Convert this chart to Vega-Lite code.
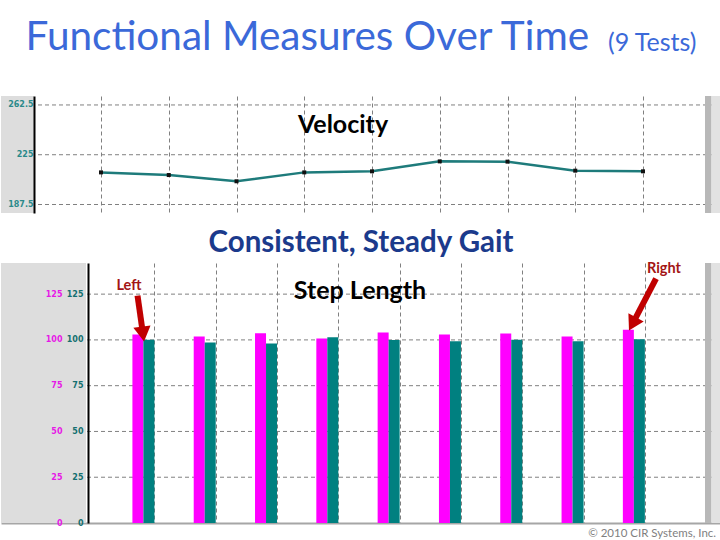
{
  "$schema": "https://vega.github.io/schema/vega-lite/v6.json",
  "padding": {"top": 17, "left": 0, "right": 0, "bottom": 0},
  "background": "white",
  "spacing": 14,
  "config": {"view": {"stroke": null}, "font": "Lato"},
  "title": {"text": "Functional Measures Over Time", "anchor": "start", "dx": 25, "dy": 17, "offset": -10, "fontSize": 40.5, "font": "Lato", "fontWeight": "normal", "color": "#3b69d9"},
  "datasets": {
    "velocity": [
      {"test": 1, "velocity": 211.7},
      {"test": 2, "velocity": 209.7},
      {"test": 3, "velocity": 205.0},
      {"test": 4, "velocity": 211.7},
      {"test": 5, "velocity": 212.5},
      {"test": 6, "velocity": 220.0},
      {"test": 7, "velocity": 219.8},
      {"test": 8, "velocity": 213.0},
      {"test": 9, "velocity": 212.5}
    ],
    "steps": [
      {"test": 1, "right": 103.0, "left": 100.1},
      {"test": 2, "right": 101.9, "left": 98.6},
      {"test": 3, "right": 103.7, "left": 98.1},
      {"test": 4, "right": 100.8, "left": 101.4},
      {"test": 5, "right": 104.1, "left": 99.9},
      {"test": 6, "right": 103.0, "left": 99.2},
      {"test": 7, "right": 103.5, "left": 100.1},
      {"test": 8, "right": 101.9, "left": 99.2},
      {"test": 9, "right": 105.6, "left": 100.3}
    ],
    "velGrid": [{"v": 187.5}, {"v": 225}, {"v": 262.5}],
    "stepGrid": [{"v": 25}, {"v": 50}, {"v": 75}, {"v": 100}, {"v": 125}],
    "one": [{}]
  },
  "vconcat": [
    {
      "width": 720,
      "height": 117,
      "title": {"text": "(9 Tests)", "anchor": "end", "dx": -25, "dy": -5, "offset": 35, "fontSize": 25, "font": "Lato", "fontWeight": "normal", "color": "#3b69d9"},
      "resolve": {"scale": {"x": "independent", "y": "independent"}},
      "layer": [
        {
          "data": {"name": "velGrid"},
          "mark": {"type": "rule", "color": "#808080", "strokeDash": [4, 3], "strokeWidth": 1},
          "encoding": {"y": {"field": "v", "type": "quantitative", "scale": {"domain": [181.1, 269.25], "nice": false, "zero": false}, "axis": null}}
        },
        {
          "data": {"name": "one"},
          "mark": {"type": "rect", "color": "#dddddd"},
          "encoding": {
            "x": {"datum": -0.476, "type": "quantitative", "scale": {"domain": [-0.476, 10.151], "nice": false, "zero": false}, "axis": null},
            "x2": {"datum": 0.011}
          }
        },
        {
          "data": {"name": "one"},
          "mark": {"type": "rect", "color": "#b8b8b8"},
          "encoding": {
            "x": {"datum": 9.915, "type": "quantitative", "scale": {"domain": [-0.476, 10.151], "nice": false, "zero": false}, "axis": null},
            "x2": {"datum": 10.011}
          }
        },
        {
          "data": {"name": "one"},
          "mark": {"type": "rect", "color": "#e2e2e2"},
          "encoding": {
            "x": {"datum": 10.011, "type": "quantitative", "scale": {"domain": [-0.476, 10.151], "nice": false, "zero": false}, "axis": null},
            "x2": {"datum": 10.151}
          }
        },
        {
          "data": {"name": "velocity"},
          "mark": {"type": "line", "color": "#1e7b7b", "strokeWidth": 2.5},
          "encoding": {
            "x": {"field": "test", "type": "quantitative", "scale": {"domain": [-0.476, 10.151], "nice": false, "zero": false},
                  "axis": {"orient": "bottom", "values": [1, 2, 3, 4, 5, 6, 7, 8, 9], "grid": true, "gridDash": [4, 3], "gridColor": "#808080", "gridOpacity": 1, "labels": false, "ticks": false, "domain": false, "title": null}},
            "y": {"field": "velocity", "type": "quantitative", "scale": {"domain": [181.1, 269.25], "nice": false, "zero": false},
                  "axis": {"orient": "left", "offset": -33, "values": [187.5, 225, 262.5], "format": ".1~f", "grid": false, "ticks": false, "domain": true, "domainColor": "#000000", "domainWidth": 2, "labelColor": "#2a8a8a", "labelFont": "DejaVu Sans", "labelFontWeight": "bold", "labelFontSize": 8, "labelPadding": 1, "zindex": 1, "title": null}}
          }
        },
        {
          "data": {"name": "velocity"},
          "mark": {"type": "point", "shape": "square", "filled": true, "color": "#111111", "size": 16, "opacity": 1},
          "encoding": {
            "x": {"field": "test", "type": "quantitative", "scale": {"domain": [-0.476, 10.151], "nice": false, "zero": false}, "axis": null},
            "y": {"field": "velocity", "type": "quantitative", "scale": {"domain": [181.1, 269.25], "nice": false, "zero": false}, "axis": null}
          }
        },
        {
          "data": {"name": "one"},
          "mark": {"type": "text", "text": "Velocity", "font": "Lato", "fontSize": 25, "fontWeight": "bold", "color": "#000000", "align": "center", "baseline": "alphabetic"},
          "encoding": {
            "x": {"datum": 4.572, "type": "quantitative", "scale": {"domain": [-0.476, 10.151], "nice": false, "zero": false}, "axis": null},
            "y": {"datum": 241.7, "type": "quantitative", "scale": {"domain": [181.1, 269.25], "nice": false, "zero": false}, "axis": null}
          }
        }
      ]
    },
    {
      "width": 720,
      "height": 260,
      "title": {"text": "Consistent, Steady Gait", "anchor": "middle", "offset": 3, "fontSize": 29.5, "font": "Lato", "fontWeight": "bold", "color": "#1b3a8c"},
      "resolve": {"scale": {"x": "independent", "y": "independent"}},
      "layer": [
        {
          "data": {"name": "stepGrid"},
          "mark": {"type": "rule", "color": "#808080", "strokeDash": [4, 3], "strokeWidth": 1},
          "encoding": {"y": {"field": "v", "type": "quantitative", "scale": {"domain": [0, 142], "nice": false, "zero": false}, "axis": null}}
        },
        {
          "data": {"name": "one"},
          "mark": {"type": "rect", "color": "#dddddd"},
          "encoding": {
            "x": {"datum": -1.4208, "type": "quantitative", "scale": {"domain": [-1.4208, 10.1603], "nice": false, "zero": false}, "axis": null},
            "x2": {"datum": -0.0536}
          }
        },
        {
          "data": {"name": "one"},
          "mark": {"type": "rect", "color": "#b8b8b8"},
          "encoding": {
            "x": {"datum": 9.903, "type": "quantitative", "scale": {"domain": [-1.4208, 10.1603], "nice": false, "zero": false}, "axis": null},
            "x2": {"datum": 10.0077}
          }
        },
        {
          "data": {"name": "one"},
          "mark": {"type": "rect", "color": "#e2e2e2"},
          "encoding": {
            "x": {"datum": 10.0077, "type": "quantitative", "scale": {"domain": [-1.4208, 10.1603], "nice": false, "zero": false}, "axis": null},
            "x2": {"datum": 10.1603}
          }
        },
        {
          "data": {"name": "steps"},
          "mark": {"type": "bar", "color": "#ff00ff", "width": 11, "xOffset": -16.5},
          "encoding": {
            "x": {"field": "test", "type": "quantitative", "scale": {"domain": [-1.4208, 10.1603], "nice": false, "zero": false},
                  "axis": {"orient": "bottom", "values": [1, 2, 3, 4, 5, 6, 7, 8, 9], "grid": true, "gridDash": [4, 3], "gridColor": "#808080", "gridOpacity": 1, "labels": false, "ticks": false, "domain": true, "domainColor": "#a6a6a6", "domainWidth": 2, "title": null, "zindex": 0}},
            "y": {"field": "right", "type": "quantitative", "scale": {"domain": [0, 142], "nice": false, "zero": false},
                  "axis": {"orient": "left", "offset": -87, "values": [0, 25, 50, 75, 100, 125], "grid": false, "ticks": false, "domain": false, "labelColor": "#e619e6", "labelFont": "DejaVu Sans", "labelFontWeight": "bold", "labelFontSize": 8, "labelPadding": 26, "zindex": 1, "title": null}}
          }
        },
        {
          "data": {"name": "steps"},
          "mark": {"type": "bar", "color": "#008080", "width": 11, "xOffset": -5.5},
          "encoding": {
            "x": {"field": "test", "type": "quantitative", "scale": {"domain": [-1.4208, 10.1603], "nice": false, "zero": false}, "axis": null},
            "y": {"field": "left", "type": "quantitative", "scale": {"domain": [0, 142], "nice": false, "zero": false},
                  "axis": {"orient": "left", "offset": -87, "values": [0, 25, 50, 75, 100, 125], "grid": false, "ticks": false, "domain": true, "domainColor": "#000000", "domainWidth": 2, "labelColor": "#157070", "labelFont": "DejaVu Sans", "labelFontWeight": "bold", "labelFontSize": 8, "labelPadding": 5, "zindex": 1, "title": null}}
          }
        },
        {
          "data": {"name": "one"},
          "mark": {"type": "rule", "color": "#c00000", "strokeWidth": 6},
          "encoding": {
            "x": {"datum": 0.775, "type": "quantitative", "scale": {"domain": [-1.4208, 10.1603], "nice": false, "zero": false}, "axis": null},
            "y": {"datum": 124.2, "type": "quantitative", "scale": {"domain": [0, 142], "nice": false, "zero": false}, "axis": null},
            "x2": {"datum": 0.863},
            "y2": {"datum": 103.2}
          }
        },
        {
          "data": {"name": "one"},
          "mark": {"type": "point", "shape": "triangle-down", "filled": true, "color": "#c00000", "size": 300, "angle": -8, "opacity": 1},
          "encoding": {
            "x": {"datum": 0.863, "type": "quantitative", "scale": {"domain": [-1.4208, 10.1603], "nice": false, "zero": false}, "axis": null},
            "y": {"datum": 103.2, "type": "quantitative", "scale": {"domain": [0, 142], "nice": false, "zero": false}, "axis": null}
          }
        },
        {
          "data": {"name": "one"},
          "mark": {"type": "rule", "color": "#c00000", "strokeWidth": 6},
          "encoding": {
            "x": {"datum": 9.115, "type": "quantitative", "scale": {"domain": [-1.4208, 10.1603], "nice": false, "zero": false}, "axis": null},
            "y": {"datum": 133.5, "type": "quantitative", "scale": {"domain": [0, 142], "nice": false, "zero": false}, "axis": null},
            "x2": {"datum": 8.737},
            "y2": {"datum": 108.7}
          }
        },
        {
          "data": {"name": "one"},
          "mark": {"type": "point", "shape": "triangle-down", "filled": true, "color": "#c00000", "size": 300, "angle": 28, "opacity": 1},
          "encoding": {
            "x": {"datum": 8.737, "type": "quantitative", "scale": {"domain": [-1.4208, 10.1603], "nice": false, "zero": false}, "axis": null},
            "y": {"datum": 108.7, "type": "quantitative", "scale": {"domain": [0, 142], "nice": false, "zero": false}, "axis": null}
          }
        },
        {
          "data": {"name": "one"},
          "mark": {"type": "text", "text": "Left", "font": "Lato", "fontSize": 14.5, "fontWeight": "bold", "color": "#a31515", "align": "center", "baseline": "alphabetic"},
          "encoding": {
            "x": {"datum": 0.638, "type": "quantitative", "scale": {"domain": [-1.4208, 10.1603], "nice": false, "zero": false}, "axis": null},
            "y": {"datum": 127.0, "type": "quantitative", "scale": {"domain": [0, 142], "nice": false, "zero": false}, "axis": null}
          }
        },
        {
          "data": {"name": "one"},
          "mark": {"type": "text", "text": "Right", "font": "Lato", "fontSize": 14.5, "fontWeight": "bold", "color": "#a31515", "align": "center", "baseline": "alphabetic"},
          "encoding": {
            "x": {"datum": 9.243, "type": "quantitative", "scale": {"domain": [-1.4208, 10.1603], "nice": false, "zero": false}, "axis": null},
            "y": {"datum": 136.3, "type": "quantitative", "scale": {"domain": [0, 142], "nice": false, "zero": false}, "axis": null}
          }
        },
        {
          "data": {"name": "one"},
          "mark": {"type": "text", "text": "Step Length", "font": "Lato", "fontSize": 25, "fontWeight": "bold", "color": "#000000", "align": "center", "baseline": "alphabetic"},
          "encoding": {
            "x": {"datum": 4.354, "type": "quantitative", "scale": {"domain": [-1.4208, 10.1603], "nice": false, "zero": false}, "axis": null},
            "y": {"datum": 122.6, "type": "quantitative", "scale": {"domain": [0, 142], "nice": false, "zero": false}, "axis": null}
          }
        },
        {
          "data": {"name": "one"},
          "mark": {"type": "text", "text": "© 2010 CIR Systems, Inc.", "font": "Lato", "fontSize": 11.5, "color": "#7f7f7f", "align": "right", "baseline": "alphabetic"},
          "encoding": {
            "x": {"datum": 10.08, "type": "quantitative", "scale": {"domain": [-1.4208, 10.1603], "nice": false, "zero": false}, "axis": null},
            "y": {"datum": -7.6, "type": "quantitative", "scale": {"domain": [0, 142], "nice": false, "zero": false}, "axis": null}
          }
        }
      ]
    }
  ]
}
